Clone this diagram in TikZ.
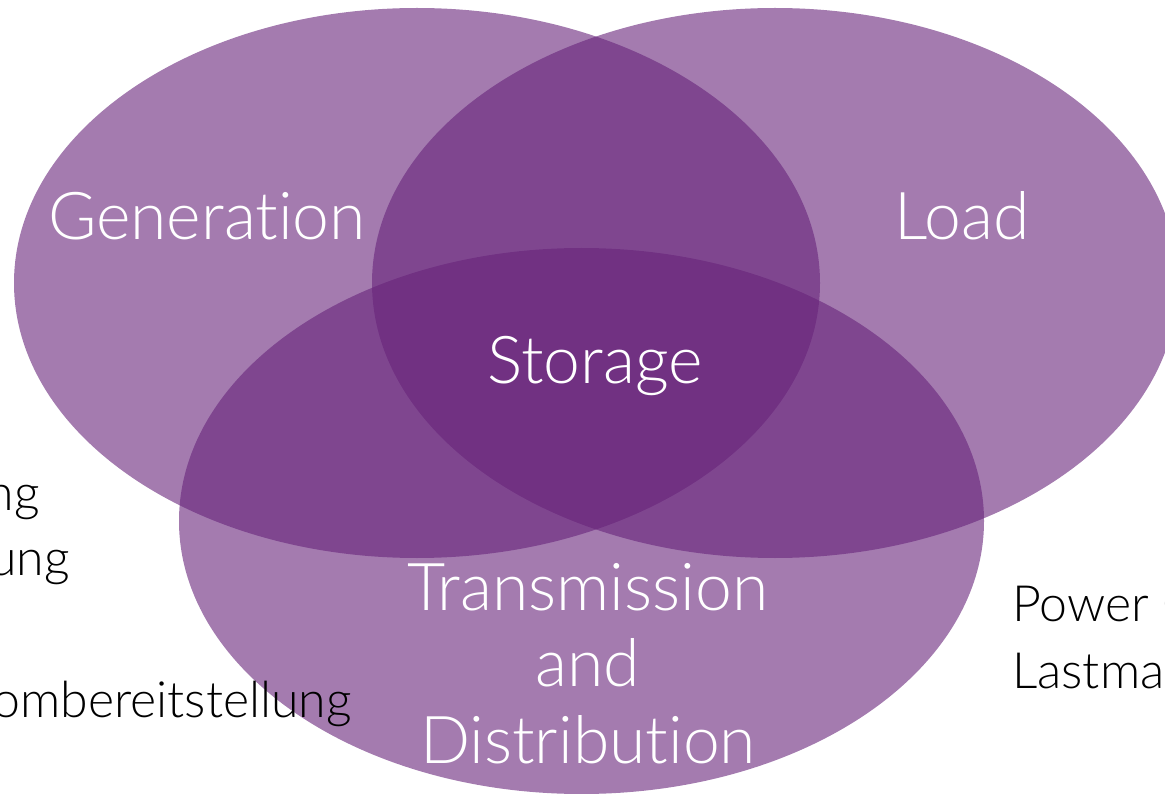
\documentclass[tikz,border=0pt]{standalone}
\usepackage{fontspec}
\setmainfont{Lato Light}[Ligatures={NoCommon,NoDiscretionary,NoRare}]
\definecolor{vennpurple}{RGB}{103,35,122}
\begin{document}
\begin{tikzpicture}[x=1pt,y=-1pt,
  venn/.style={fill=vennpurple, fill opacity=0.6},
  biglabel/.style={text=white, font=\fontsize{66}{76.5}\selectfont, inner sep=0pt, anchor=base},
  sidetext/.style={text=black, font=\fontsize{50}{60}\selectfont, inner sep=0pt}]
\useasboundingbox (0,0) rectangle (1165,794);
% circles
\fill[venn] (417,283) ellipse [x radius=403pt, y radius=275pt];
\fill[venn] (775,283) ellipse [x radius=403pt, y radius=275pt];
\fill[venn] (581.5,521) ellipse [x radius=402.5pt, y radius=273pt];
% labels
\node[biglabel] (gen) at (207,240) {Generation};
\node[biglabel] (load) at (962,240) {Load};
\node[biglabel] (stor) at (595,384) {Storage};
\node[biglabel] (trans) at (588,610) {Transmission};
\node[biglabel] (and) at (588,686) {and};
\node[biglabel] (dist) at (588,763) {Distribution};
% side texts
\node[sidetext, anchor=base east] (l1) at (40,510) {ng};
\node[sidetext, anchor=base east] (l2) at (70,575) {ung};
\node[sidetext, anchor=base east] (l3) at (352,717) {ombereitstellung};
\node[sidetext, anchor=base west] (r1) at (1012,621) {Power C};
\node[sidetext, anchor=base west] (r2) at (1012,688) {Lastma};
\end{tikzpicture}
\end{document}
